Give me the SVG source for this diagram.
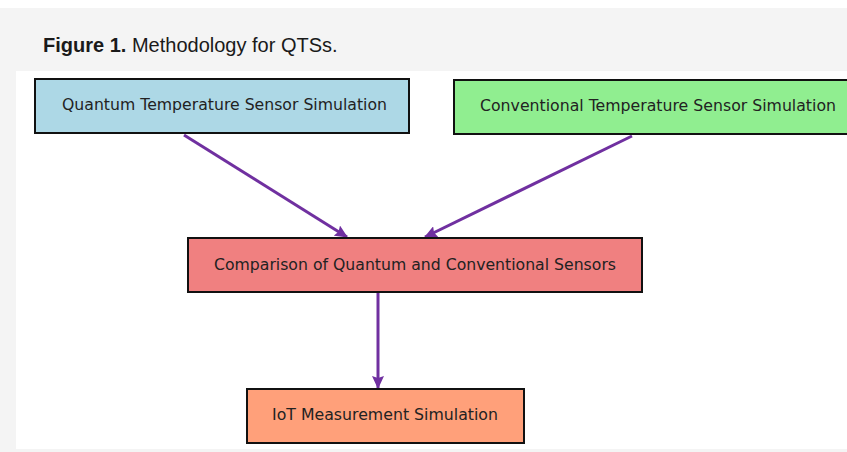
<svg xmlns="http://www.w3.org/2000/svg" width="847" height="452" viewBox="0 0 847 452">
<style>
.box{stroke:#111;stroke-width:2}
.lbl{font-family:"DejaVu Sans",sans-serif;font-size:15px;fill:#222;text-anchor:middle;dominant-baseline:central}
.conn{stroke:#7030a0;stroke-width:3;fill:none}
</style>
<defs>
<marker id="ah" markerWidth="13" markerHeight="12" refX="12" refY="6" orient="auto" markerUnits="userSpaceOnUse">
<path d="M0,0 L13,6 L0,12 L2,6 z" fill="#7030a0"/>
</marker>
</defs>
<rect x="0" y="0" width="847" height="452" fill="#ffffff"/>
<rect x="0" y="8" width="847" height="444" fill="#f4f4f4"/>
<rect x="16" y="71" width="831" height="378" fill="#ffffff"/>
<text x="43" y="52" font-family="Liberation Sans, Arial, sans-serif" font-size="20" fill="#1a1a1a"><tspan font-weight="bold">Figure 1.</tspan> Methodology for QTSs.</text>
<g id="connectors">
<line class="conn" x1="184" y1="135" x2="347" y2="237" marker-end="url(#ah)"/>
<line class="conn" x1="632" y1="136" x2="425" y2="237" marker-end="url(#ah)"/>
<line class="conn" x1="378" y1="292" x2="378" y2="388" marker-end="url(#ah)"/>
</g>
<g id="quantum">
<rect class="box" x="35" y="79" width="374" height="54" fill="#add8e6"/>
<text class="lbl" x="224.5" y="105" textLength="325" lengthAdjust="spacingAndGlyphs">Quantum Temperature Sensor Simulation</text>
</g>
<g id="conventional">
<rect class="box" x="454" y="80" width="400" height="54" fill="#90ee90"/>
<text class="lbl" x="658" y="106" textLength="356" lengthAdjust="spacingAndGlyphs">Conventional Temperature Sensor Simulation</text>
</g>
<g id="comparison">
<rect class="box" x="188" y="238" width="454" height="54" fill="#f08080"/>
<text class="lbl" x="415" y="265" textLength="402" lengthAdjust="spacingAndGlyphs">Comparison of Quantum and Conventional Sensors</text>
</g>
<g id="iot">
<rect class="box" x="247" y="389" width="277" height="54" fill="#ffa07a"/>
<text class="lbl" x="385" y="415" textLength="226" lengthAdjust="spacingAndGlyphs">IoT Measurement Simulation</text>
</g>
</svg>
